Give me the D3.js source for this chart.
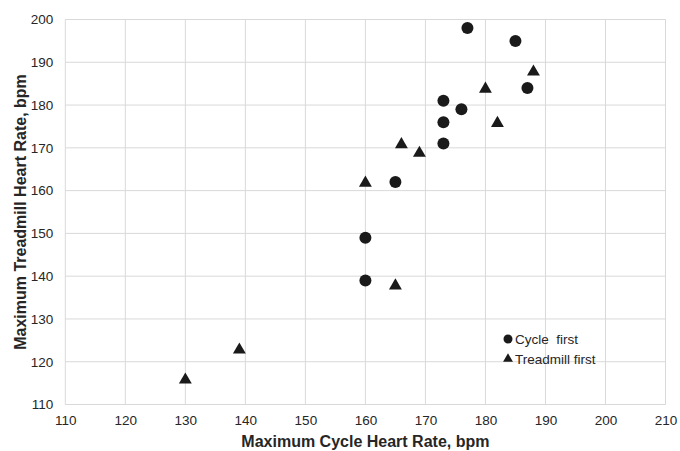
<!DOCTYPE html>
<html>
<head>
<meta charset="utf-8">
<script src="https://cdn.jsdelivr.net/npm/d3@7"></script>
<style>
  body { margin: 0; background: #fff; }
  svg { display: block; font-family: "Liberation Sans", Arial, sans-serif; }
</style>
</head>
<body>
<svg id="chart" width="680" height="451"></svg>
<script>
// --- Data ---
const cycleFirstX = [177, 185, 187, 173, 176, 173, 173, 165, 160, 160];
const cycleFirstY = [198, 195, 184, 181, 179, 176, 171, 162, 149, 139];
const treadmillFirstX = [188, 180, 182, 166, 169, 160, 165, 139, 130];
const treadmillFirstY = [188, 184, 176, 171, 169, 162, 138, 123, 116];
const xTicks = [110, 120, 130, 140, 150, 160, 170, 180, 190, 200, 210];
const yTicks = [110, 120, 130, 140, 150, 160, 170, 180, 190, 200];
const legendLabels = ["Cycle  first", "Treadmill first"];

const svg = d3.select("#chart");
const margin = { top: 19.5, right: 14.5, bottom: 46.5, left: 65.3 };
const width = 680 - margin.left - margin.right;
const height = 451 - margin.top - margin.bottom;

const g = svg.append("g").attr("transform", `translate(${margin.left},${margin.top})`);

const x = d3.scaleLinear().domain([110, 210]).range([0, width]);
const y = d3.scaleLinear().domain([110, 200]).range([height, 0]);

// gridlines
g.append("g")
  .selectAll("line")
  .data(xTicks)
  .join("line")
  .attr("x1", d => x(d)).attr("x2", d => x(d))
  .attr("y1", 0).attr("y2", height)
  .attr("stroke", "#d9d9d9").attr("stroke-width", 1);

g.append("g")
  .selectAll("line")
  .data(yTicks)
  .join("line")
  .attr("x1", 0).attr("x2", width)
  .attr("y1", d => y(d)).attr("y2", d => y(d))
  .attr("stroke", "#d9d9d9").attr("stroke-width", 1);

// axes (labels only)
const xAxis = g.append("g")
  .attr("transform", `translate(0,${height})`)
  .call(d3.axisBottom(x).tickValues(xTicks).tickSize(0).tickPadding(11));
const yAxis = g.append("g")
  .call(d3.axisLeft(y).tickValues(yTicks).tickSize(0).tickPadding(12));
[xAxis, yAxis].forEach(a => {
  a.select(".domain").remove();
  a.selectAll("text")
    .style("font-size", "13.5px")
    .style("font-family", "'Liberation Sans', Arial, sans-serif")
    .attr("fill", "#262626");
});

// axis titles
svg.append("text")
  .attr("x", margin.left + width / 2)
  .attr("y", 447)
  .attr("text-anchor", "middle")
  .style("font-size", "16px")
  .style("font-weight", "bold")
  .attr("fill", "#262626")
  .text("Maximum Cycle Heart Rate, bpm");

svg.append("text")
  .attr("transform", `translate(26,${margin.top + height / 2}) rotate(-90)`)
  .attr("text-anchor", "middle")
  .style("font-size", "16px")
  .style("font-weight", "bold")
  .attr("fill", "#262626")
  .text("Maximum Treadmill Heart Rate, bpm");

// markers
const cycleData = cycleFirstX.map((v, i) => ({ x: v, y: cycleFirstY[i] }));
const treadData = treadmillFirstX.map((v, i) => ({ x: v, y: treadmillFirstY[i] }));
const tri = d3.symbol().type(d3.symbolTriangle).size(72);

g.selectAll(".cycle")
  .data(cycleData)
  .join("circle")
  .attr("class", "cycle")
  .attr("cx", d => x(d.x))
  .attr("cy", d => y(d.y))
  .attr("r", 6)
  .attr("fill", "#1a1a1a");

g.selectAll(".tread")
  .data(treadData)
  .join("path")
  .attr("class", "tread")
  .attr("d", tri)
  .attr("transform", d => `translate(${x(d.x)},${y(d.y) + 1})`)
  .attr("fill", "#1a1a1a");

// legend
const legend = svg.append("g").attr("transform", "translate(508,339)");
legend.append("circle").attr("cx", 0).attr("cy", 0).attr("r", 4.5).attr("fill", "#1a1a1a");
legend.append("path")
  .attr("d", d3.symbol().type(d3.symbolTriangle).size(42))
  .attr("transform", "translate(0,20)")
  .attr("fill", "#1a1a1a");
legend.selectAll("text")
  .data(legendLabels)
  .join("text")
  .attr("x", 7)
  .attr("y", (d, i) => i * 19.5 + 5)
  .style("font-size", "13.5px")
  .style("white-space", "pre")
  .attr("fill", "#262626")
  .text(d => d);
</script>
</body>
</html>
